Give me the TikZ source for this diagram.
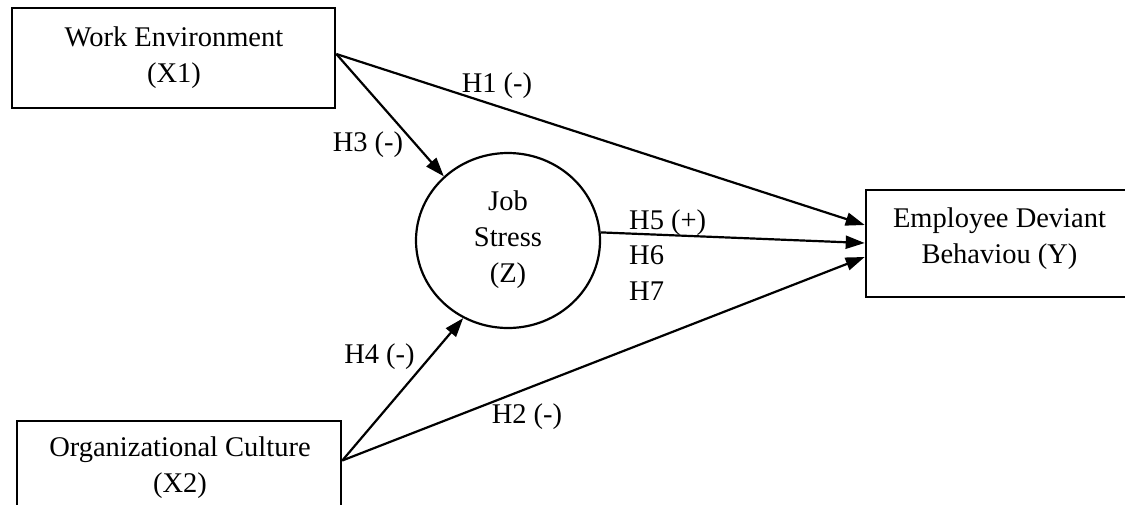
\documentclass[tikz,border=0pt]{standalone}
\usepackage{fontspec}
\setmainfont{Liberation Serif}
\usetikzlibrary{arrows.meta,shapes.geometric}
\begin{document}
\begin{tikzpicture}[x=1pt,y=-1pt,
  txt/.style={font=\fontsize{28.5}{36}\selectfont, align=center, inner sep=0pt},
  varbox/.style={draw, line width=2.6pt, rectangle, inner sep=0pt},
  latent/.style={draw, line width=2.2pt, ellipse, inner sep=0pt},
  path/.style={line width=2.2pt, -{Triangle[length=19pt,width=13pt]}},
  hyp/.style={font=\fontsize{28.5}{36}\selectfont, inner sep=0pt}
]
\useasboundingbox (0,0) rectangle (1125,504);
\clip (0,0) rectangle (1125,504);
\fill[white] (0,0) rectangle (1125,504);

% boxes
\node[varbox, minimum width=323pt, minimum height=100pt] (we) at (173.5,58) {};
\node[txt] (wet) at (174,57.3) {Work Environment\\(X1)};
\node[varbox, minimum width=324pt, minimum height=93pt] (oc) at (179,467.5) {};
\node[txt] (oct) at (180,467.3) {Organizational Culture\\(X2)};
\node[varbox, minimum width=267pt, minimum height=107pt] (ed) at (999.5,243.5) {};
\node[txt] (edt) at (999.5,238.3) {Employee Deviant\\Behaviou (Y)};
\node[latent, minimum width=184pt, minimum height=175pt] (js) at (508,240.5) {};
\node[txt] (jst) at (508,240) {Job\\Stress\\(Z)};

% anchors
\coordinate (weo) at ([yshift=4pt]we.east);
\coordinate (oco) at ([yshift=7pt]oc.east);
\coordinate (ed1) at ([yshift=18.5pt]ed.west);
\coordinate (ed2) at ([yshift=0.5pt]ed.west);
\coordinate (ed3) at ([yshift=-13.5pt]ed.west);

% paths
\draw[path] (weo) -- (ed1);
\draw[path] (weo) -- (js.135);
\draw[path] (oco) -- (js.240);
\draw[path] (oco) -- (ed3);
\draw[path] (js.5) -- (ed2);

% labels
\node[hyp, anchor=base] (h1) at (497,92) {H1 (-)};
\node[hyp, anchor=base] (h3) at (368,151) {H3 (-)};
\node[hyp, anchor=base] (h4) at (379.5,363) {H4 (-)};
\node[hyp, anchor=base] (h2) at (527,423) {H2 (-)};
\node[hyp, anchor=base west] (h5) at (629,229) {H5 (+)};
\node[hyp, anchor=base west] (h6) at (629,264.5) {H6};
\node[hyp, anchor=base west] (h7) at (629,300) {H7};
\end{tikzpicture}
\end{document}
